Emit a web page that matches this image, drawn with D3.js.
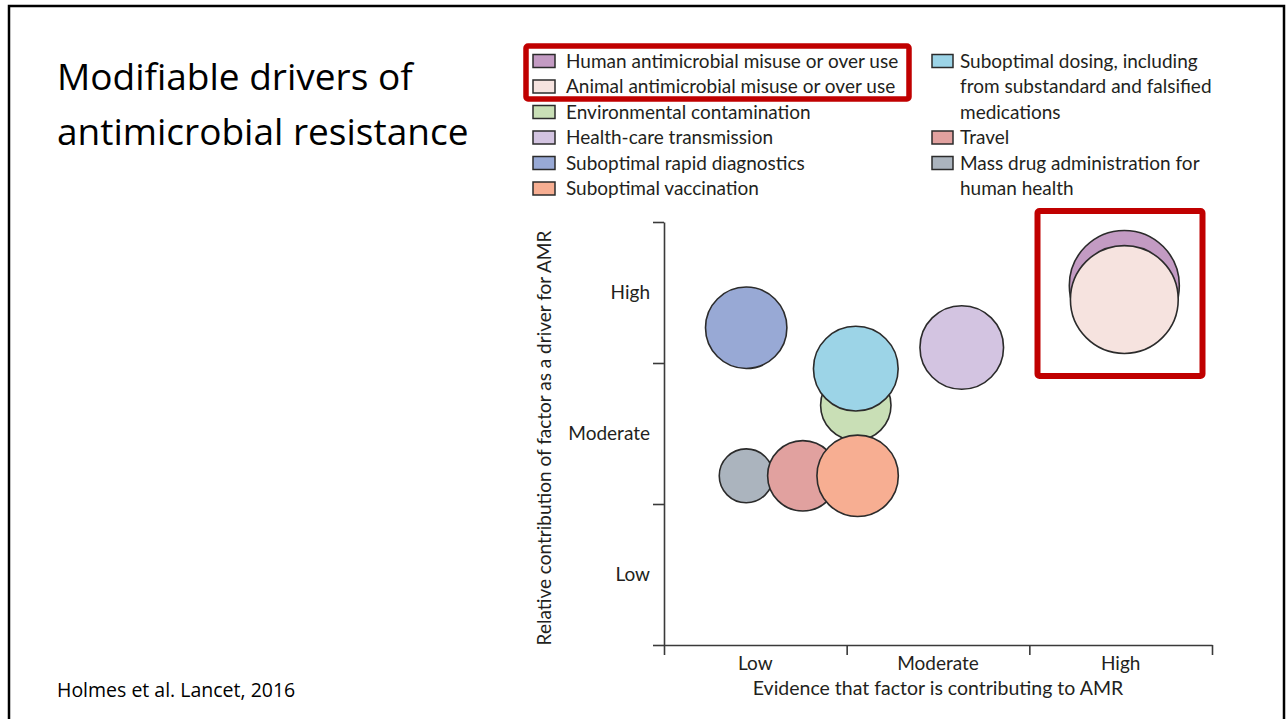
<!DOCTYPE html>
<html>
<head>
<meta charset="utf-8">
<script src="https://cdn.jsdelivr.net/npm/d3@7/dist/d3.min.js"></script>
<style>
  html, body { margin: 0; padding: 0; background: #fff; }
  svg { display: block; }
  .chart-text { font-family: Lato, "Open Sans", sans-serif; fill: #231f20; }
  .slide-text { font-family: "Open Sans", "Noto Sans", sans-serif; fill: #000; }
</style>
</head>
<body>
<svg id="slide" width="1286" height="719"></svg>
<script>
// Factors, in legend order
const factors = [
  "Human antimicrobial misuse or over use",
  "Animal antimicrobial misuse or over use",
  "Environmental contamination",
  "Health-care transmission",
  "Suboptimal rapid diagnostics",
  "Suboptimal vaccination",
  "Suboptimal dosing, including from substandard and falsified medications",
  "Travel",
  "Mass drug administration for human health"
];
// Evidence that the factor contributes to AMR (0 = bottom of Low, 3 = top of High)
const evidence     = [2.52, 2.52, 1.05, 1.63, 0.45, 1.06, 1.05, 0.76, 0.45];
// Relative contribution of the factor as a driver for AMR (same 0-3 scale)
const contribution = [2.55, 2.45, 1.70, 2.11, 2.25, 1.20, 1.96, 1.20, 1.20];
// Relative bubble size (1 = largest)
const weight       = [1.00, 0.98, 0.64, 0.76, 0.74, 0.74, 0.77, 0.64, 0.49];

const levels = ["Low", "Moderate", "High"];

// Legend text, broken into lines
const legendLines = [
  ["Human antimicrobial misuse or over use"],
  ["Animal antimicrobial misuse or over use"],
  ["Environmental contamination"],
  ["Health-care transmission"],
  ["Suboptimal rapid diagnostics"],
  ["Suboptimal vaccination"],
  ["Suboptimal dosing, including", "from substandard and falsified", "medications"],
  ["Travel"],
  ["Mass drug administration for", "human health"]
];

// Bubble paint order (later ones sit on top)
const drawOrder = [0, 1, 2, 6, 3, 4, 8, 7, 5];

const fills = ["#c39bc3", "#f6e3df", "#c9dfb6", "#d3c4e1", "#98a9d5",
               "#f7ae92", "#9cd4e7", "#e1a19f", "#abb4be"];

const svg = d3.select("#slide");

// slide frame
svg.append("rect")
  .attr("x", 9).attr("y", 6).attr("width", 1275).attr("height", 730)
  .attr("fill", "none").attr("stroke", "#000").attr("stroke-width", 2.5);

// slide title & citation
svg.append("text").attr("class", "slide-text")
  .attr("x", 57).attr("y", 90).attr("font-size", 37)
  .text("Modifiable drivers of");
svg.append("text").attr("class", "slide-text")
  .attr("x", 57).attr("y", 145).attr("font-size", 37)
  .text("antimicrobial resistance");
svg.append("text").attr("class", "slide-text")
  .attr("x", 57).attr("y", 697).attr("font-size", 19.5)
  .text("Holmes et al. Lancet, 2016");

// scales
const x = d3.scaleLinear().domain([0, 3]).range([664, 1212]);
const y = d3.scaleLinear().domain([0, 3]).range([645, 222]);
const xBand = d3.scaleBand().domain(levels).range([664, 1212]);
const yBand = d3.scaleBand().domain(levels).range([645, 222]);
const r = d3.scaleLinear().domain([0, 1]).range([0, 55]);

const axisColor = "#3a3a3a";
const fs = 19;

// axes: boundary ticks
const yAxis = svg.append("g").attr("transform", "translate(664,0)")
  .call(d3.axisLeft(y).tickValues([0, 1, 2, 3]).tickSizeInner(11).tickSizeOuter(0).tickFormat(""));
const xAxis = svg.append("g").attr("transform", "translate(0,645)")
  .call(d3.axisBottom(x).tickValues([0, 1, 2, 3]).tickSizeInner(10).tickSizeOuter(0).tickFormat(""));
[yAxis, xAxis].forEach(g => {
  g.selectAll("path, line").attr("stroke", axisColor).attr("stroke-width", 1.6);
});

// axis category labels, centred in each band
const yLab = svg.append("g").attr("transform", "translate(650,0)")
  .call(d3.axisLeft(yBand).tickSize(0).tickPadding(0));
const xLab = svg.append("g").attr("transform", "translate(0,656)")
  .call(d3.axisBottom(xBand).tickSize(0).tickPadding(0));
[yLab, xLab].forEach(g => {
  g.select(".domain").remove();
  g.selectAll("text").attr("class", "chart-text")
    .attr("font-size", fs).attr("fill", "#231f20");
});
yLab.selectAll("text").attr("dy", "0.35em");
xLab.selectAll("text").attr("dy", "0.71em");

// axis titles
svg.append("text").attr("class", "chart-text")
  .attr("x", 938).attr("y", 695).attr("font-size", 19.5).attr("text-anchor", "middle")
  .text("Evidence that factor is contributing to AMR");
svg.append("text").attr("class", "chart-text")
  .attr("transform", "translate(551,438) rotate(-90)")
  .attr("font-size", fs).attr("text-anchor", "middle")
  .text("Relative contribution of factor as a driver for AMR");

// bubbles
svg.append("g").selectAll("circle")
  .data(drawOrder)
  .join("circle")
  .attr("cx", i => x(evidence[i]))
  .attr("cy", i => y(contribution[i]))
  .attr("r", i => r(weight[i]))
  .attr("fill", i => fills[i])
  .attr("stroke", "#2b2b2b")
  .attr("stroke-width", 1.6);

// legend
const rowH = 25.5;
const cols = [
  { items: [0, 1, 2, 3, 4, 5], x: 533, boxW: 22, textX: 566 },
  { items: [6, 7, 8], x: 932, boxW: 21, textX: 960 }
];
cols.forEach(col => {
  let row = 0;
  col.items.forEach(i => {
    const cy = 61 + row * rowH;
    svg.append("rect")
      .attr("x", col.x).attr("y", cy - 6.5).attr("width", col.boxW).attr("height", 13)
      .attr("fill", fills[i]).attr("stroke", "#2b2b2b").attr("stroke-width", 1.5);
    legendLines[i].forEach((line, k) => {
      svg.append("text").attr("class", "chart-text")
        .attr("x", col.textX).attr("y", cy + k * rowH).attr("dy", "0.35em")
        .attr("font-size", fs)
        .text(line);
    });
    row += legendLines[i].length;
  });
});

// highlight boxes
const hl = "#c00000";
svg.append("rect")
  .attr("x", 526).attr("y", 46).attr("width", 383).attr("height", 53).attr("rx", 2)
  .attr("fill", "none").attr("stroke", hl).attr("stroke-width", 5.5);
svg.append("rect")
  .attr("x", 1037.5).attr("y", 211).attr("width", 165).attr("height", 165).attr("rx", 2)
  .attr("fill", "none").attr("stroke", hl).attr("stroke-width", 6);
</script>
</body>
</html>
